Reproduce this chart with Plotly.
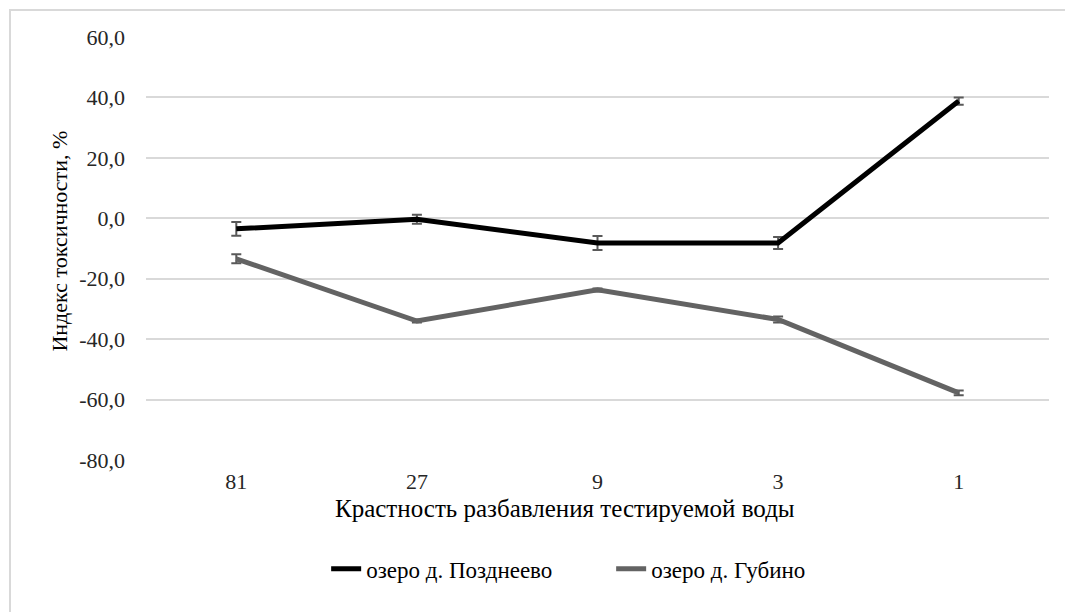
import plotly.graph_objects as go

# Dilution factors (category axis)
dilution = ["81", "27", "9", "3", "1"]

# Toxicity index, % and its error
pozdneevo = [-3.5, -0.3, -8.2, -8.2, 38.8]
pozdneevo_err = [2.3, 1.5, 2.3, 2.0, 1.2]
gubino = [-13.4, -34.0, -23.7, -33.5, -57.8]
gubino_err = [1.5, 0.5, 0.5, 1.0, 0.8]

y_ticks = [60, 40, 20, 0, -20, -40, -60, -80]
y_tick_text = ["60,0", "40,0", "20,0", "0,0", "-20,0", "-40,0", "-60,0", "-80,0"]

font_family = "Liberation Serif"

fig = go.Figure()
fig.add_trace(go.Scatter(
    x=dilution, y=pozdneevo, mode="lines", name="озеро д. Позднеево",
    line=dict(color="#000000", width=5),
    error_y=dict(type="data", array=pozdneevo_err, visible=True,
                 color="#595959", thickness=2, width=5),
))
fig.add_trace(go.Scatter(
    x=dilution, y=gubino, mode="lines", name="озеро д. Губино",
    line=dict(color="#636363", width=5),
    error_y=dict(type="data", array=gubino_err, visible=True,
                 color="#595959", thickness=2, width=5),
))

fig.update_layout(
    width=1065, height=612,
    margin=dict(l=146, r=16, t=37, b=152),
    paper_bgcolor="white", plot_bgcolor="white",
    font=dict(family=font_family, size=22, color="#262626"),
    showlegend=True,
    legend=dict(orientation="h", x=0.1995, xanchor="left", y=-0.257, yanchor="middle",
                font=dict(family=font_family, size=23, color="#000000"),
                entrywidth=240, tracegroupgap=0),
    xaxis=dict(
        type="category", range=[-0.5, 4.5], showgrid=False, zeroline=False,
        showline=False, ticks="", tickfont=dict(family=font_family, size=22, color="#262626"),
        ticklabelstandoff=6,
    ),
    yaxis=dict(
        range=[-80, 60], tickvals=y_ticks, ticktext=y_tick_text,
        showgrid=True, gridcolor="#d9d9d9", gridwidth=2, zeroline=False,
        showline=False, ticks="", ticklabelstandoff=20,
        tickfont=dict(family=font_family, size=22, color="#262626"),
    ),
    annotations=[
        dict(text="Крастность разбавления тестируемой воды", xref="paper", yref="paper",
             x=0.4635, y=-0.1158, xanchor="center", yanchor="middle", showarrow=False,
             font=dict(family=font_family, size=25, color="#000000")),
        dict(text="Индекс токсичности, %", xref="paper", yref="paper",
             x=-0.0963, y=0.5165, xanchor="center", yanchor="middle", showarrow=False,
             textangle=-90, font=dict(family=font_family, size=22, color="#000000")),
    ],
    shapes=[dict(type="rect", xref="paper", yref="paper",
                 x0=-0.1506, x1=1.2, y0=-0.6, y1=1.0638,
                 line=dict(color="#d9d9d9", width=2), layer="below")],
)

fig.write_html("out.html")
